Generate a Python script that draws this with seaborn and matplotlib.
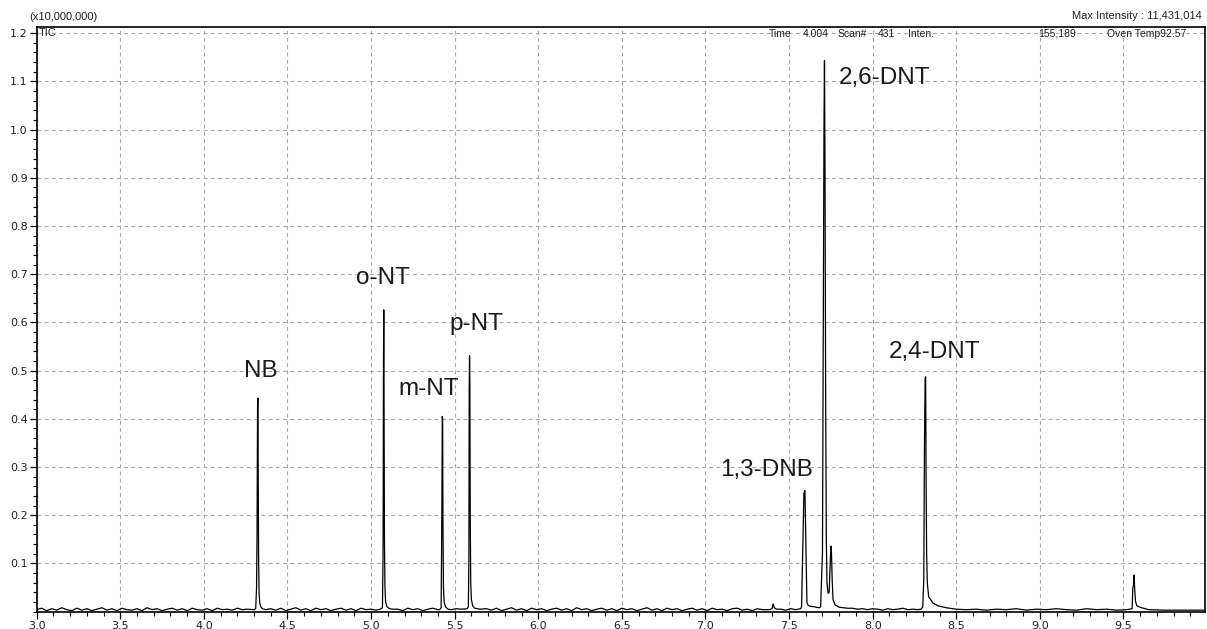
import matplotlib
matplotlib.use("Agg")
import matplotlib.pyplot as plt
from matplotlib.ticker import MultipleLocator, FixedLocator
import pandas as pd
import seaborn as sns

# ---- trace data (retention time [min], intensity [x10,000,000]) ----
base_a_t = [3.00, 3.03, 3.06, 3.09, 3.12, 3.15, 3.18, 3.21, 3.24, 3.27, 3.30, 3.33, 3.36, 3.39,
            3.42, 3.45, 3.48, 3.51, 3.54, 3.57, 3.60, 3.63, 3.66, 3.69, 3.72, 3.75, 3.78, 3.81,
            3.84, 3.87, 3.90, 3.93, 3.96, 3.99, 4.02, 4.05, 4.08, 4.11, 4.14, 4.17, 4.20, 4.23,
            4.26]
base_a_y = [0.004, 0.007, 0.002, 0.006, 0.003, 0.008, 0.004, 0.002, 0.007, 0.003, 0.006, 0.002,
            0.005, 0.008, 0.003, 0.006, 0.002, 0.007, 0.004, 0.003, 0.006, 0.002, 0.008, 0.004,
            0.006, 0.002, 0.005, 0.007, 0.003, 0.006, 0.002, 0.007, 0.004, 0.003, 0.006, 0.002,
            0.007, 0.004, 0.005, 0.003, 0.007, 0.004, 0.005]

nb_t = [4.300, 4.310, 4.315, 4.318, 4.321, 4.323, 4.325, 4.327, 4.330, 4.334, 4.340, 4.350, 4.370]
nb_y = [0.004, 0.006, 0.050, 0.160, 0.420, 0.443, 0.300, 0.120, 0.040, 0.018, 0.010, 0.006, 0.004]

base_b_t = [4.40, 4.43, 4.46, 4.49, 4.52, 4.55, 4.58, 4.61, 4.64, 4.67, 4.70, 4.73, 4.76, 4.79,
            4.82, 4.85, 4.88, 4.91, 4.94, 4.97, 5.00, 5.03]
base_b_y = [0.006, 0.003, 0.007, 0.002, 0.005, 0.008, 0.003, 0.006, 0.002, 0.007, 0.004, 0.006,
            0.002, 0.005, 0.007, 0.003, 0.006, 0.002, 0.007, 0.004, 0.005, 0.003]

ont_t = [5.055, 5.068, 5.072, 5.074, 5.076, 5.078, 5.080, 5.083, 5.087, 5.095, 5.110, 5.130]
ont_y = [0.005, 0.008, 0.130, 0.500, 0.626, 0.400, 0.150, 0.050, 0.020, 0.010, 0.006, 0.005]

base_c_t = [5.16, 5.19, 5.22, 5.25, 5.28, 5.31, 5.34, 5.37, 5.40]
base_c_y = [0.005, 0.002, 0.007, 0.004, 0.006, 0.002, 0.005, 0.007, 0.004]

mnt_t = [5.410, 5.419, 5.423, 5.426, 5.428, 5.430, 5.433, 5.437, 5.445, 5.460]
mnt_y = [0.004, 0.008, 0.180, 0.405, 0.400, 0.180, 0.050, 0.020, 0.010, 0.005]

base_d_t = [5.48, 5.51, 5.54]
base_d_y = [0.004, 0.006, 0.005]

pnt_t = [5.575, 5.582, 5.585, 5.587, 5.589, 5.591, 5.593, 5.596, 5.600, 5.608, 5.620, 5.650]
pnt_y = [0.006, 0.010, 0.110, 0.460, 0.531, 0.470, 0.200, 0.060, 0.025, 0.012, 0.007, 0.005]

base_e_t = [5.69, 5.72, 5.75, 5.78, 5.81, 5.84, 5.87, 5.90, 5.93, 5.96, 5.99, 6.02, 6.05, 6.08,
            6.11, 6.14, 6.17, 6.20, 6.23, 6.26, 6.29, 6.32, 6.35, 6.38, 6.41, 6.44, 6.47, 6.50,
            6.53, 6.56, 6.59, 6.62, 6.65, 6.68, 6.71, 6.74, 6.77, 6.80, 6.83, 6.86, 6.89, 6.92,
            6.95, 6.98, 7.01, 7.04, 7.07, 7.10, 7.13, 7.16, 7.19, 7.22, 7.25, 7.28, 7.31, 7.34]
base_e_y = [0.006, 0.003, 0.007, 0.002, 0.005, 0.008, 0.003, 0.006, 0.002, 0.007,
            0.004, 0.006, 0.002, 0.005, 0.007, 0.003, 0.006, 0.002, 0.008, 0.004,
            0.006, 0.002, 0.005, 0.007, 0.003, 0.006, 0.002, 0.007, 0.004, 0.006,
            0.002, 0.005, 0.008, 0.003, 0.006, 0.002, 0.007, 0.004, 0.006, 0.002,
            0.005, 0.007, 0.003, 0.006, 0.002, 0.007, 0.004, 0.005, 0.002, 0.006,
            0.007, 0.003, 0.005, 0.002, 0.006, 0.004]

small1_t = [7.385, 7.398, 7.405, 7.412, 7.425, 7.45, 7.48, 7.51, 7.54]
small1_y = [0.004, 0.006, 0.016, 0.008, 0.005, 0.005, 0.003, 0.006, 0.004]

dnb_t = [7.570, 7.575, 7.581, 7.589, 7.595, 7.601, 7.607, 7.615, 7.625, 7.650, 7.681]
dnb_y = [0.006, 0.010, 0.114, 0.246, 0.251, 0.128, 0.018, 0.013, 0.011, 0.010, 0.008]

dnt26_t = [7.689, 7.700, 7.705, 7.709, 7.712, 7.715, 7.719, 7.723, 7.727, 7.733, 7.740, 7.746,
           7.750, 7.754, 7.758, 7.763, 7.775, 7.800, 7.850]
dnt26_y = [0.010, 0.124, 0.600, 1.003, 1.143, 0.930, 0.450, 0.150, 0.060, 0.038, 0.040, 0.100,
           0.136, 0.120, 0.066, 0.025, 0.014, 0.009, 0.007]

base_f_t = [7.88, 7.91, 7.94, 7.97, 8.00, 8.03, 8.06, 8.09, 8.12, 8.15, 8.18, 8.21, 8.24, 8.27]
base_f_y = [0.007, 0.005, 0.006, 0.004, 0.006, 0.005, 0.003, 0.006, 0.004, 0.005, 0.007, 0.004,
            0.005, 0.004]

dnt24_t = [8.290, 8.300, 8.306, 8.310, 8.314, 8.317, 8.320, 8.323, 8.327, 8.335, 8.360, 8.390,
           8.440, 8.500]
dnt24_y = [0.005, 0.010, 0.070, 0.342, 0.484, 0.487, 0.263, 0.120, 0.060, 0.031, 0.018, 0.012,
           0.008, 0.005]

base_g_t = [8.56, 8.62, 8.68, 8.74, 8.80, 8.86, 8.92, 8.98, 9.04, 9.10, 9.16, 9.22, 9.28, 9.34,
            9.40, 9.46, 9.52]
base_g_y = [0.004, 0.005, 0.003, 0.005, 0.004, 0.006, 0.003, 0.005, 0.004, 0.006, 0.004, 0.003,
            0.006, 0.004, 0.005, 0.003, 0.004]

small2_t = [9.552, 9.556, 9.560, 9.564, 9.567, 9.572, 9.580, 9.600, 9.630, 9.650, 9.75, 9.85, 9.98]
small2_y = [0.006, 0.048, 0.055, 0.076, 0.050, 0.022, 0.012, 0.009, 0.006, 0.004, 0.003, 0.003, 0.003]

# ---- peak labels ----
peak_names = ["NB", "o-NT", "m-NT", "p-NT", "1,3-DNB", "2,6-DNT", "2,4-DNT"]
label_x = [4.343, 5.072, 5.344, 5.632, 7.363, 8.068, 8.373]
label_y = [0.487, 0.680, 0.449, 0.584, 0.281, 1.094, 0.5255]

x_ticks = [3.0, 3.5, 4.0, 4.5, 5.0, 5.5, 6.0, 6.5, 7.0, 7.5, 8.0, 8.5, 9.0, 9.5]
y_ticks = [0.1, 0.2, 0.3, 0.4, 0.5, 0.6, 0.7, 0.8, 0.9, 1.0, 1.1, 1.2]

info_words = ["Time", "4.004", "Scan#", "431", "Inten.", "155,189", "Oven Temp92.57"]
info_x = [7.446, 7.658, 7.876, 8.083, 8.292, 9.105, 9.640]

segments_t = [base_a_t, nb_t, base_b_t, ont_t, base_c_t, mnt_t, base_d_t, pnt_t, base_e_t,
              small1_t, dnb_t, dnt26_t, base_f_t, dnt24_t, base_g_t, small2_t]
segments_y = [base_a_y, nb_y, base_b_y, ont_y, base_c_y, mnt_y, base_d_y, pnt_y, base_e_y,
              small1_y, dnb_y, dnt26_y, base_f_y, dnt24_y, base_g_y, small2_y]
df = pd.DataFrame({"time": sum(segments_t, []), "intensity": sum(segments_y, [])})

sns.set_theme(style="white")
plt.rcParams["font.family"] = ["Liberation Sans", "DejaVu Sans"]
SMALL = dict(fontsize=8, color="#222222")

fig = plt.figure(figsize=(12.07, 6.29), dpi=100)
ax = fig.add_axes([36.7 / 1207, 1 - 611.6 / 629, (1205 - 36.7) / 1207, (611.6 - 27.3) / 629])

sns.lineplot(data=df, x="time", y="intensity", ax=ax, color="black", linewidth=0.9,
             estimator=None, sort=False)

ax.set_xlim(3.0, 9.988)
ax.set_ylim(0, 1.2122)
ax.xaxis.set_major_locator(FixedLocator(x_ticks))
ax.xaxis.set_minor_locator(MultipleLocator(0.1))
ax.yaxis.set_major_locator(FixedLocator(y_ticks))
ax.yaxis.set_minor_locator(MultipleLocator(0.02))
ax.set_xticklabels([f"{v:.1f}" for v in x_ticks])
ax.set_yticklabels([f"{v:.1f}" for v in y_ticks])
for lab in ax.get_xticklabels() + ax.get_yticklabels():
    lab.set_family(["DejaVu Sans"])
ax.tick_params(axis="both", which="major", direction="out", length=5, width=0.9,
               labelsize=8, color="black", labelcolor="#222222", pad=1.5)
ax.tick_params(axis="both", which="minor", direction="out", length=3, width=0.8, color="black")
ax.tick_params(axis="x", which="both", bottom=True)
ax.tick_params(axis="y", which="both", left=True)
ax.set_xlabel("")
ax.set_ylabel("")

ax.grid(True, which="major", color="#a8a8a8", linestyle=(0, (3.5, 3)), linewidth=0.8)
ax.set_axisbelow(True)
for s in ax.spines.values():
    s.set_visible(True)
    s.set_color("black")
    s.set_linewidth(1.2)

for name, lx, ly in zip(peak_names, label_x, label_y):
    ax.text(lx, ly, name, ha="center", va="baseline", fontsize=17.5, color="#1a1a1a")

# header / annotation texts
fig.text(29 / 1207, 1 - 16.5 / 629, "(x10,000,000)", ha="left", va="center", **SMALL)
fig.text(1202 / 1207, 1 - 16 / 629, "Max Intensity : 11,431,014", ha="right", va="center", **SMALL)
ax.text(0.0015, 0.990, "TIC", transform=ax.transAxes, ha="left", va="center", **SMALL)
for txt, tx in zip(info_words, info_x):
    ax.text(tx, 1.1925, txt, ha="center", va="baseline", fontsize=7.5, color="#222222")

fig.savefig("out.png", dpi=100)
